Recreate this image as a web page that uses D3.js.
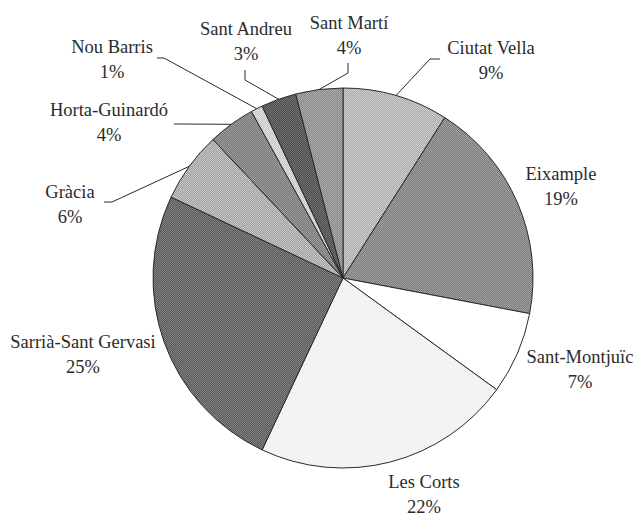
<!DOCTYPE html>
<html>
<head>
<meta charset="utf-8">
<script src="https://cdn.jsdelivr.net/npm/d3@7/dist/d3.min.js"></script>
<style>
  html, body { margin: 0; padding: 0; background: #fff; }
  svg { display: block; }
</style>
</head>
<body>
<svg id="chart" width="637" height="515"></svg>
<script>
// Districts of Barcelona, clockwise from twelve o'clock
const districts = ["Ciutat Vella", "Eixample", "Sant-Montjuïc", "Les Corts",
  "Sarrià-Sant Gervasi", "Gràcia", "Horta-Guinardó", "Nou Barris",
  "Sant Andreu", "Sant Martí"];
// Share of the total, in percent
const shares = [9, 19, 7, 22, 25, 6, 4, 1, 3, 4];
const percentLabels = ["9%", "19%", "7%", "22%", "25%", "6%", "4%", "1%", "3%", "4%"];

// Two-tone halftone fills for each slice (light dot, dark dot)
const fillLight = ["#d2d2d2", "#a4a4a4", "#ffffff", "#f7f7f7", "#848484",
  "#cacaca", "#a0a0a0", "#e2e2e2", "#767676", "#b0b0b0"];
const fillDark = ["#a6a6a6", "#787878", "#ffffff", "#eeeeee", "#565656",
  "#9c9c9c", "#747474", "#c4c4c4", "#484848", "#848484"];

// Label placement: text centre and the elbow of the leader line (if any)
const labelLayout = [
  { x: 491, y: 54,  elbow: [[440, 59], [430, 59]] },
  { x: 561, y: 180, elbow: null },
  { x: 580, y: 363, elbow: null },
  { x: 424, y: 488, elbow: null },
  { x: 83,  y: 348, elbow: null },
  { x: 70,  y: 198, elbow: [[104, 202], [112, 202]] },
  { x: 109, y: 116, elbow: [[174, 124], [180, 124]] },
  { x: 112, y: 53,  elbow: [[157, 58], [164, 58]] },
  { x: 246, y: 35,  elbow: [[245, 70], [245, 80]] },
  { x: 349, y: 29,  elbow: [[348, 63], [348, 73]] }
];

const svg = d3.select("#chart");
const cx = 343, cy = 278, radius = 190;
const fontSize = 18.5, lineGap = 24.5;

const defs = svg.append("defs");
districts.forEach((d, i) => {
  const p = defs.append("pattern")
    .attr("id", "ht" + i)
    .attr("patternUnits", "userSpaceOnUse")
    .attr("width", 2).attr("height", 2);
  p.append("rect").attr("width", 2).attr("height", 2).attr("fill", fillLight[i]);
  p.append("rect").attr("x", 0).attr("y", 0).attr("width", 1).attr("height", 1).attr("fill", fillDark[i]);
  p.append("rect").attr("x", 1).attr("y", 1).attr("width", 1).attr("height", 1).attr("fill", fillDark[i]);
});

const pie = d3.pie().sort(null).value(d => d);
const arcs = pie(shares);
const arc = d3.arc().innerRadius(0).outerRadius(radius);

const g = svg.append("g").attr("transform", `translate(${cx},${cy})`);

g.selectAll("path.slice")
  .data(arcs)
  .join("path")
  .attr("class", "slice")
  .attr("d", arc)
  .attr("fill", (d, i) => `url(#ht${i})`)
  .attr("stroke", "#2a2a2a")
  .attr("stroke-width", 1)
  .attr("stroke-linejoin", "round");

// Leader lines for the labels that sit away from their slice
const edgeArc = d3.arc().innerRadius(radius).outerRadius(radius);
arcs.forEach((a, i) => {
  const lay = labelLayout[i];
  if (!lay.elbow) return;
  const [ex, ey] = edgeArc.centroid(a);
  const pts = lay.elbow.concat([[cx + ex, cy + ey]]);
  svg.append("path")
    .attr("d", d3.line()(pts))
    .attr("fill", "none")
    .attr("stroke", "#2a2a2a")
    .attr("stroke-width", 1);
});

// Category and percentage labels
const labels = svg.append("g")
  .attr("font-family", "'Liberation Serif', 'Times New Roman', serif")
  .attr("font-size", fontSize)
  .attr("fill", "#2b2b2b")
  .attr("text-anchor", "middle");

districts.forEach((name, i) => {
  const lay = labelLayout[i];
  const t = labels.append("text").attr("x", lay.x).attr("y", lay.y);
  t.append("tspan").attr("x", lay.x).text(name);
  t.append("tspan").attr("x", lay.x).attr("dy", lineGap).text(percentLabels[i]);
});
</script>
</body>
</html>
